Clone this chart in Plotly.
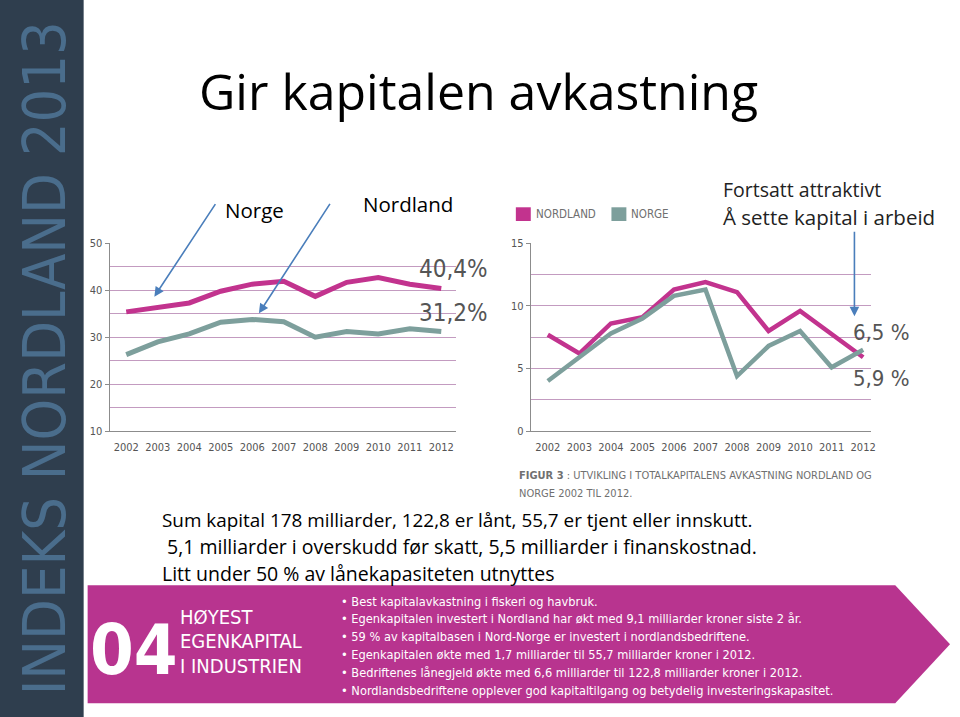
import plotly.graph_objects as go

W, H = 960, 717

# ---------------- data ----------------
years = [2002, 2003, 2004, 2005, 2006, 2007, 2008, 2009, 2010, 2011, 2012]
year_labels = [str(y) for y in years]

# Left chart: egenkapitalandel (%)
eq_nordland = [35.4, 36.4, 37.3, 39.8, 41.3, 41.9, 38.7, 41.7, 42.7, 41.3, 40.4]
eq_norge = [26.3, 29.0, 30.7, 33.2, 33.8, 33.3, 30.0, 31.2, 30.7, 31.8, 31.2]
left_yticks = [10, 20, 30, 40, 50]

# Right chart: totalkapitalens avkastning (%)
rt_nordland = [7.7, 6.2, 8.6, 9.1, 11.3, 11.9, 11.1, 8.0, 9.6, 7.8, 5.9]
rt_norge = [4.0, 5.9, 7.8, 9.0, 10.8, 11.3, 4.4, 6.8, 8.0, 5.1, 6.5]
right_yticks = [0, 5, 10, 15]

end_labels_left = ["40,4%", "31,2%"]
end_labels_right = ["6,5 %", "5,9 %"]

bullets = [
    "• Best kapitalavkastning i fiskeri og havbruk.",
    "• Egenkapitalen investert i Nordland har økt med 9,1 milliarder kroner siste 2 år.",
    "• 59 % av kapitalbasen i Nord-Norge er investert i nordlandsbedriftene.",
    "• Egenkapitalen økte med 1,7 milliarder til 55,7 milliarder kroner i 2012.",
    "• Bedriftenes lånegjeld økte med 6,6 milliarder til 122,8 milliarder kroner i 2012.",
    "• Nordlandsbedriftene opplever god kapitaltilgang og betydelig investeringskapasitet.",
]
body_lines = [
    "Sum kapital 178 milliarder, 122,8 er lånt, 55,7 er tjent eller innskutt.",
    "5,1 milliarder i overskudd før skatt, 5,5 milliarder i finanskostnad.",
    "Litt under 50 % av lånekapasiteten utnyttes",
]

# ---------------- styles ----------------
MAG = "#c2338e"
TEAL = "#7d9f9c"
GRID = "#c39bc0"
AXIS = "#8c8c8c"
TICKC = "#555555"
BANNER = "#b8348f"
DARK = "#2f3e4e"
NARROW = "Liberation Sans Narrow, DejaVu Sans Condensed, Liberation Sans, sans-serif"
CAL = "Open Sans, Lato, sans-serif"


def X(p):
    return p / W


def Y(p):
    return 1 - p / H


fig = go.Figure()

fig.add_trace(go.Scatter(x=years, y=eq_nordland, mode="lines", line=dict(color=MAG, width=5),
                         xaxis="x", yaxis="y", name="Nordland", hoverinfo="x+y"))
fig.add_trace(go.Scatter(x=years, y=eq_norge, mode="lines", line=dict(color=TEAL, width=5),
                         xaxis="x", yaxis="y", name="Norge", hoverinfo="x+y"))
fig.add_trace(go.Scatter(x=years, y=rt_nordland, mode="lines", line=dict(color=MAG, width=4.5),
                         xaxis="x2", yaxis="y2", name="NORDLAND", hoverinfo="x+y"))
fig.add_trace(go.Scatter(x=years, y=rt_norge, mode="lines", line=dict(color=TEAL, width=4.5),
                         xaxis="x2", yaxis="y2", name="NORGE", hoverinfo="x+y"))

tickfont = dict(family=NARROW, size=11, color=TICKC)
ydom = [Y(433), Y(241.7)]

xcommon = dict(tickvals=years, ticktext=year_labels, showgrid=False, zeroline=False,
               showline=True, linecolor=AXIS, linewidth=1, ticks="", tickfont=tickfont,
               ticklabelstandoff=6)
fig.update_layout(
    xaxis=dict(domain=[X(110), X(458)], range=[2001.47, 2012.47], anchor="y", **xcommon),
    yaxis=dict(domain=ydom, range=[10, 50], tickvals=left_yticks, anchor="x",
               showgrid=True, gridcolor=GRID, gridwidth=1, zeroline=False,
               showline=True, linecolor=AXIS, ticks="outside", ticklen=4, tickcolor=AXIS,
               tickfont=tickfont, minor=dict(dtick=5, tick0=10, showgrid=True, gridcolor=GRID, gridwidth=1)),
    xaxis2=dict(domain=[X(533), X(875)], range=[2001.46, 2012.26], anchor="y2", **xcommon),
    yaxis2=dict(domain=ydom, range=[0, 15], tickvals=right_yticks, anchor="x2",
                showgrid=True, gridcolor=GRID, gridwidth=1, zeroline=False,
                showline=True, linecolor=AXIS, ticks="outside", ticklen=4, tickcolor=AXIS,
                tickfont=tickfont, minor=dict(dtick=2.5, tick0=0, showgrid=True, gridcolor=GRID, gridwidth=1)),
)

shapes = []
# left dark band
shapes.append(dict(type="rect", xref="paper", yref="paper", x0=0, x1=X(84), y0=-0.01, y1=1.01,
                   fillcolor=DARK, line=dict(width=0), layer="below"))
# banner arrow
path = "M {a},{b} L {c},{b} L {d},{e} L {c},{f} L {a},{f} Z".format(
    a=X(88), b=Y(590), c=X(899), d=X(954), e=Y(650), f=Y(710))
shapes.append(dict(type="path", xref="paper", yref="paper", path=path,
                   fillcolor=BANNER, line=dict(width=0), layer="below"))
# legend squares
shapes.append(dict(type="rect", xref="paper", yref="paper", x0=X(518), x1=X(533), y0=Y(219), y1=Y(205),
                   fillcolor=MAG, line=dict(width=0)))
shapes.append(dict(type="rect", xref="paper", yref="paper", x0=X(614), x1=X(629), y0=Y(219), y1=Y(205),
                   fillcolor=TEAL, line=dict(width=0)))

ann = []


def txt(x, y, s, size, color="#000000", family=CAL, xanchor="left", yanchor="middle", **kw):
    ann.append(dict(x=X(x), y=Y(y), xref="paper", yref="paper", text=s, showarrow=False,
                    xanchor=xanchor, yanchor=yanchor, font=dict(size=size, color=color, family=family), **kw))


# vertical band text
ann.append(dict(x=X(45), y=Y(359), xref="paper", yref="paper", text="INDEKS NORDLAND 2013",
                showarrow=False, textangle=-90, xanchor="center", yanchor="middle",
                font=dict(family=NARROW, size=59, color="#4a6d8c")))

# title
txt(198, 87, "Gir kapitalen avkastning", 50)

# labels for arrows
txt(256, 208, "Norge", 20.5, xanchor="center")
txt(410, 202, "Nordland", 20.5, xanchor="center")
txt(724, 187, "Fortsatt attraktivt", 19.5, color="#222222")
txt(724, 215, "Å sette kapital i arbeid", 20.5, color="#222222")

# arrows
for hx, hy, tx, ty in [(155, 296, 217, 202), (260, 313, 332, 202), (858, 316, 858, 230)]:
    ann.append(dict(x=X(hx), y=Y(hy), xref="paper", yref="paper", ax=tx - hx, ay=ty - hy,
                    axref="pixel", ayref="pixel", text="", showarrow=True, arrowhead=2,
                    arrowsize=1.2, arrowwidth=1.6, arrowcolor="#4a7ebb"))

# end value labels
ann.append(dict(x=2012, y=eq_nordland[-1], xref="x", yref="y", text=end_labels_left[0], showarrow=False,
                xanchor="left", yanchor="middle", xshift=-24, yshift=19,
                font=dict(family=NARROW, size=24, color="#555555")))
ann.append(dict(x=2012, y=eq_norge[-1], xref="x", yref="y", text=end_labels_left[1], showarrow=False,
                xanchor="left", yanchor="middle", xshift=-24, yshift=19,
                font=dict(family=NARROW, size=24, color="#555555")))
ann.append(dict(x=2012, y=rt_norge[-1], xref="x2", yref="y2", text=end_labels_right[0], showarrow=False,
                xanchor="left", yanchor="middle", xshift=-12, yshift=17,
                font=dict(family=NARROW, size=22, color="#555555")))
ann.append(dict(x=2012, y=rt_nordland[-1], xref="x2", yref="y2", text=end_labels_right[1], showarrow=False,
                xanchor="left", yanchor="middle", xshift=-12, yshift=-21,
                font=dict(family=NARROW, size=22, color="#555555")))

# legend text
txt(536, 212, "NORDLAND", 11.5, color="#707070", family=NARROW)
txt(632, 212, "NORGE", 11.5, color="#707070", family=NARROW)

# figure caption
txt(519, 478, "<b>FIGUR 3</b> : UTVIKLING I TOTALKAPITALENS AVKASTNING NORDLAND OG", 11,
    color="#707070", family=NARROW)
txt(519, 496, "NORGE 2002 TIL 2012.", 11, color="#707070", family=NARROW)

# body text
txt(161, 523, body_lines[0], 18.9)
txt(166, 550, body_lines[1], 19.5)
txt(161, 578, body_lines[2], 19.5)

# banner text
txt(135, 656, "<b>04</b>", 70, color="#ffffff", family=NARROW, xanchor="center")
txt(179, 622, "HØYEST", 20, color="#ffffff", family=NARROW)
txt(179, 647, "EGENKAPITAL", 20, color="#ffffff", family=NARROW)
txt(179, 672, "I INDUSTRIEN", 20, color="#ffffff", family=NARROW)
for i, b in enumerate(bullets):
    txt(340, 606 + i * 18.2, b, 12.7, color="#ffffff", family=NARROW)

fig.update_layout(
    width=W, height=H, margin=dict(l=0, r=0, t=0, b=0),
    paper_bgcolor="white", plot_bgcolor="rgba(0,0,0,0)",
    showlegend=False, shapes=shapes, annotations=ann,
)

fig.write_html("out.html", config={"displayModeBar": False},
               post_script="document.body.style.margin='0px';")
